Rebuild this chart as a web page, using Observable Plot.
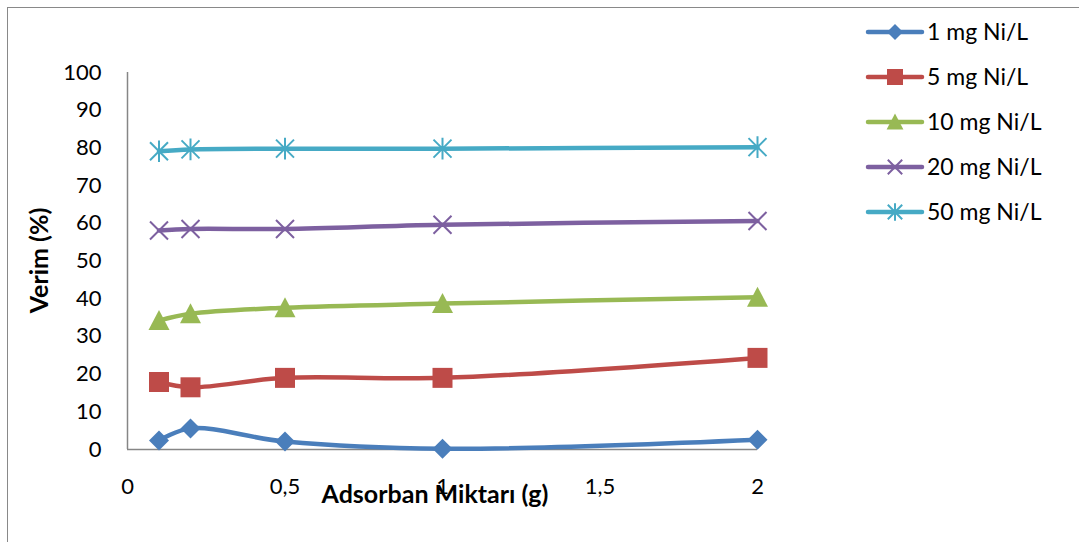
<!DOCTYPE html>
<html><head><meta charset="utf-8">
<script src="https://cdn.jsdelivr.net/npm/d3@7"></script>
<script src="https://cdn.jsdelivr.net/npm/@observablehq/plot@0.6"></script>
<style>
body{margin:0;background:#fff;}
#wrap{position:relative;width:1079px;height:542px;overflow:hidden;font-family:Lato,sans-serif;}
#border{position:absolute;left:7px;top:7px;right:-10px;bottom:-10px;border-top:1.5px solid #898989;border-left:1.5px solid #898989;pointer-events:none;}
#chart{position:absolute;left:0;top:0;}
#legend{position:absolute;left:0;top:0;}
</style></head><body><div id="wrap"><div id="chart"></div><svg id="legend" width="1079" height="542"></svg><div id="border"></div></div>
<script>
const xValues = [0.1, 0.2, 0.5, 1, 2];
const seriesNames = ["1 mg Ni/L", "5 mg Ni/L", "10 mg Ni/L", "20 mg Ni/L", "50 mg Ni/L"];
const s1 = [2.4, 5.6, 2.1, 0.2, 2.6];
const s2 = [17.9, 16.5, 19.0, 19.0, 24.3];
const s3 = [34.2, 36.0, 37.6, 38.7, 40.4];
const s4 = [58.1, 58.5, 58.5, 59.6, 60.6];
const s5 = [79.1, 79.6, 79.8, 79.8, 80.2];
const seriesValues = [s1, s2, s3, s4, s5];
const colors = ["#4A7EBB", "#BE4B48", "#98B954", "#7D60A0", "#46AAC5"];
const xTicks = [0, 0.5, 1, 1.5, 2];
const yTicks = d3.range(0, 101, 10);
const xLabel = "Adsorban Miktarı (g)";
const yLabel = "Verim (%)";

const R = s => Math.sqrt(s / Math.PI);
const symbols = [
  {draw(c, s){const r=R(s); c.moveTo(0,-r); c.lineTo(r,0); c.lineTo(0,r); c.lineTo(-r,0); c.closePath();}},
  {draw(c, s){const r=R(s); c.rect(-r,-r,2*r,2*r);}},
  {draw(c, s){const r=R(s); c.moveTo(0,-r); c.lineTo(r,r*0.9); c.lineTo(-r,r*0.9); c.closePath();}},
  {draw(c, s){const r=R(s); c.moveTo(-r,-r); c.lineTo(r,r); c.moveTo(r,-r); c.lineTo(-r,r);}},
  {draw(c, s){const r=R(s); c.moveTo(-r,-r); c.lineTo(r,r); c.moveTo(r,-r); c.lineTo(-r,r); c.moveTo(0,-r*1.2); c.lineTo(0,r*1.2);}}
];
const filled = [true, true, true, false, false];
const sizes = [10, 10, 10.5, 9, 9];

const rows = [];
seriesValues.forEach((vals, i) => vals.forEach((v, j) => rows.push({x: xValues[j], y: v, s: i})));

const marks = [
  Plot.ruleY([0], {x1: 0, x2: 2, stroke: "#868686", strokeWidth: 1.5}),
  Plot.ruleX([0], {y1: 0, y2: 100, stroke: "#868686", strokeWidth: 1.5}),
  Plot.axisY({ticks: yTicks, tickSize: 0, tickPadding: 26, fontSize: 22, label: null}),
  Plot.axisX({ticks: xTicks, tickSize: 0, tickPadding: 29, fontSize: 22, label: null, tickFormat: d => String(d).replace(".", ",")})
];
seriesValues.forEach((vals, i) => {
  const d = rows.filter(r => r.s === i);
  marks.push(Plot.line(d, {x: "x", y: "y", stroke: colors[i], strokeWidth: 4.5, curve: "catmull-rom"}));
});
seriesValues.forEach((vals, i) => {
  const d = rows.filter(r => r.s === i);
  marks.push(Plot.dot(d, {x: "x", y: "y", symbol: symbols[i], r: sizes[i],
    fill: filled[i] ? colors[i] : "none", stroke: colors[i], strokeWidth: filled[i] ? 0 : 2}));
});

const plot = Plot.plot({
  width: 1079, height: 542,
  marginLeft: 127, marginRight: 322, marginTop: 72, marginBottom: 93,
  style: {fontFamily: "Lato, sans-serif", color: "#000", background: "transparent"},
  x: {domain: [0, 2]},
  y: {domain: [0, 100]},
  marks
});
document.getElementById("chart").appendChild(plot);

const sx = plot.scale("x"), sy = plot.scale("y");
const svg = d3.select(plot);
svg.append("text").attr("x", (sx.apply(0) + sx.apply(2)) / 2 - 7).attr("y", 503)
  .attr("text-anchor", "middle").attr("font-size", 25).attr("font-weight", "bold")
  .attr("font-family", "Lato, sans-serif").attr("fill", "#000").text(xLabel);
const yc = (sy.apply(0) + sy.apply(100)) / 2;
svg.append("text").attr("transform", `translate(48,${yc}) rotate(-90)`)
  .attr("text-anchor", "middle").attr("font-size", 25).attr("font-weight", "bold")
  .attr("font-family", "Lato, sans-serif").attr("fill", "#000").text(yLabel);

// legend
const lg = d3.select("#legend");
seriesNames.forEach((name, i) => {
  const cy = 32 + i * 45;
  const g = lg.append("g");
  g.append("line").attr("x1", 868).attr("x2", 922).attr("y1", cy).attr("y2", cy)
    .attr("stroke", colors[i]).attr("stroke-width", 4.5).attr("stroke-linecap", "round");
  const rr = sizes[i] * 0.8;
  g.append("path").attr("transform", `translate(895,${cy})`)
    .attr("d", d3.symbol(symbols[i], Math.PI * rr * rr)())
    .attr("fill", filled[i] ? colors[i] : "none").attr("stroke", colors[i]).attr("stroke-width", filled[i] ? 0 : 2);
  g.append("text").attr("x", 927).attr("y", cy + 7.5).attr("font-size", 23)
    .attr("font-family", "Lato, sans-serif").attr("fill", "#000").text(name);
});
</script></body></html>
